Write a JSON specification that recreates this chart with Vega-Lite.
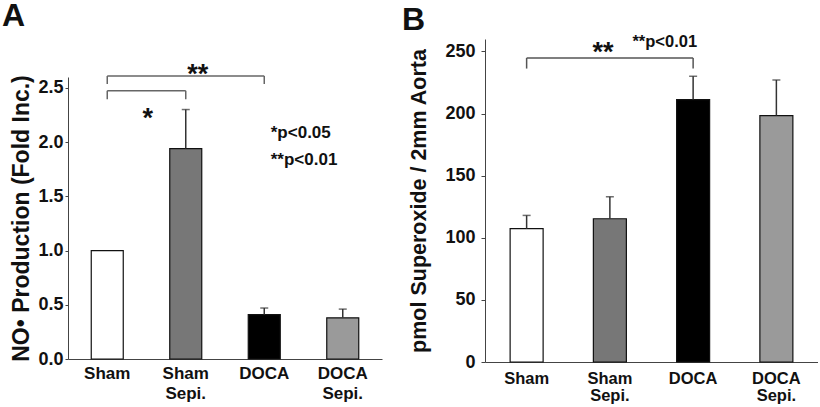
{
  "$schema": "https://vega.github.io/schema/vega-lite/v6.json",
  "background": "white",
  "padding": {"left": 1, "top": 0, "right": 0, "bottom": 0},
  "spacing": 19,
  "config": {
    "view": {"stroke": null},
    "font": "Liberation Sans",
    "axis": {
      "grid": false,
      "domainColor": "#444",
      "domainWidth": 1,
      "tickColor": "#444",
      "labelFont": "Liberation Sans",
      "labelFontWeight": "bold",
      "labelColor": "#111",
      "titleFont": "Liberation Sans",
      "titleFontWeight": "bold",
      "titleColor": "#111"
    },
    "title": {"font": "Liberation Sans", "fontWeight": "bold", "color": "#111"}
  },
  "hconcat": [
    {
      "width": 314,
      "height": 320,
      "title": {"text": "A", "anchor": "start", "frame": "bounds", "fontSize": 32, "offset": 6, "dx": -9},
      "layer": [
        {
          "data": {"values": [
            {"group": "Sham", "mean": 1.0, "upper": 1.0},
            {"group": "Sham Sepi.", "mean": 1.94, "upper": 2.30},
            {"group": "DOCA", "mean": 0.41, "upper": 0.47},
            {"group": "DOCA Sepi.", "mean": 0.38, "upper": 0.46}
          ]},
          "layer": [
            {
              "mark": {"type": "bar", "stroke": "#111", "strokeWidth": 1.2, "width": 32},
              "encoding": {
                "x": {"field": "group", "type": "nominal",
                  "scale": {"domain": ["Sham", "Sham Sepi.", "DOCA", "DOCA Sepi."], "paddingInner": 0.592, "paddingOuter": 0.296},
                  "axis": {"title": null, "labelAngle": 0, "ticks": false, "labelFontSize": 17, "labelPadding": 6, "labelLineHeight": 20, "labelExpr": "split(datum.value, ' ')"}},
                "y": {"field": "mean", "type": "quantitative",
                  "scale": {"domain": [0, 2.5], "range": [320, 38]},
                  "axis": {"title": "NO• Production (Fold Inc.)", "titleFontSize": 23, "titlePadding": 4, "values": [0, 0.5, 1, 1.5, 2, 2.5], "format": ".1f", "labelFontSize": 18, "tickSize": 3, "labelPadding": 2}},
                "fill": {"field": "group", "type": "nominal", "legend": null,
                  "scale": {"domain": ["Sham", "Sham Sepi.", "DOCA", "DOCA Sepi."], "range": ["#ffffff", "#777777", "#000000", "#9a9a9a"]}}
              }
            },
            {
              "transform": [{"filter": "datum.upper > datum.mean"}],
              "mark": {"type": "rule", "color": "#333", "strokeWidth": 1.5},
              "encoding": {
                "x": {"field": "group", "type": "nominal"},
                "y": {"field": "mean", "type": "quantitative"},
                "y2": {"field": "upper"}
              }
            },
            {
              "transform": [{"filter": "datum.upper > datum.mean"}],
              "mark": {"type": "tick", "color": "#333", "size": 8, "thickness": 1.5},
              "encoding": {
                "x": {"field": "group", "type": "nominal"},
                "y": {"field": "upper", "type": "quantitative"}
              }
            }
          ]
        },
        {
          "data": {"values": [
            {"from": "Sham", "to": "DOCA", "y1": 2.61, "y2": 2.61},
            {"from": "Sham", "to": "Sham", "y1": 2.61, "y2": 2.535},
            {"from": "DOCA", "to": "DOCA", "y1": 2.61, "y2": 2.535},
            {"from": "Sham", "to": "Sham Sepi.", "y1": 2.473, "y2": 2.473},
            {"from": "Sham", "to": "Sham", "y1": 2.473, "y2": 2.394},
            {"from": "Sham Sepi.", "to": "Sham Sepi.", "y1": 2.473, "y2": 2.394}
          ]},
          "mark": {"type": "rule", "color": "#666", "strokeWidth": 1.5},
          "encoding": {
            "x": {"field": "from", "type": "nominal"},
            "x2": {"field": "to"},
            "y": {"field": "y1", "type": "quantitative"},
            "y2": {"field": "y2"}
          }
        },
        {
          "data": {"values": [{"pos": "Sham Sepi.", "y": 2.542, "label": "**"}]},
          "mark": {"type": "text", "fontSize": 27, "fontWeight": "bold", "align": "center", "baseline": "alphabetic", "dx": 12, "color": "#111"},
          "encoding": {"x": {"field": "pos", "type": "nominal"}, "y": {"field": "y", "type": "quantitative"}, "text": {"field": "label"}}
        },
        {
          "data": {"values": [{"pos": "Sham", "y": 2.137, "label": "*"}]},
          "mark": {"type": "text", "fontSize": 27, "fontWeight": "bold", "align": "center", "baseline": "alphabetic", "dx": 40.5, "color": "#111"},
          "encoding": {"x": {"field": "pos", "type": "nominal"}, "y": {"field": "y", "type": "quantitative"}, "text": {"field": "label"}}
        },
        {
          "data": {"values": [
            {"pos": "DOCA", "y": 2.036, "label": "*p<0.05"},
            {"pos": "DOCA", "y": 1.785, "label": "**p<0.01"}
          ]},
          "mark": {"type": "text", "fontSize": 17, "fontWeight": "bold", "align": "left", "baseline": "alphabetic", "dx": 6.5, "color": "#111"},
          "encoding": {"x": {"field": "pos", "type": "nominal"}, "y": {"field": "y", "type": "quantitative"}, "text": {"field": "label"}}
        }
      ]
    },
    {
      "width": 333,
      "height": 323,
      "title": {"text": "B", "anchor": "start", "frame": "bounds", "fontSize": 32, "offset": -3, "dx": -7},
      "layer": [
        {
          "data": {"values": [
            {"group": "Sham", "mean": 107.3, "upper": 118},
            {"group": "Sham Sepi.", "mean": 115.3, "upper": 133},
            {"group": "DOCA", "mean": 211.2, "upper": 230},
            {"group": "DOCA Sepi.", "mean": 198.4, "upper": 227}
          ]},
          "layer": [
            {
              "mark": {"type": "bar", "stroke": "#111", "strokeWidth": 1.2, "width": 33},
              "encoding": {
                "x": {"field": "group", "type": "nominal",
                  "scale": {"domain": ["Sham", "Sham Sepi.", "DOCA", "DOCA Sepi."], "paddingInner": 0.604, "paddingOuter": 0.302},
                  "axis": {"title": null, "labelAngle": 0, "ticks": false, "labelFontSize": 16.5, "labelPadding": 8, "labelLineHeight": 17, "labelExpr": "split(datum.value, ' ')"}},
                "y": {"field": "mean", "type": "quantitative",
                  "scale": {"domain": [0, 250]},
                  "axis": {"title": "pmol Superoxide / 2mm Aorta", "titleFontSize": 21.5, "titlePadding": 14, "values": [0, 50, 100, 150, 200, 250], "labelFontSize": 18, "tickSize": 4, "labelPadding": 6}},
                "fill": {"field": "group", "type": "nominal", "legend": null,
                  "scale": {"domain": ["Sham", "Sham Sepi.", "DOCA", "DOCA Sepi."], "range": ["#ffffff", "#777777", "#000000", "#c8c8c8"]}}
              }
            },
            {
              "mark": {"type": "rule", "color": "#333", "strokeWidth": 1.5},
              "encoding": {
                "x": {"field": "group", "type": "nominal"},
                "y": {"field": "mean", "type": "quantitative"},
                "y2": {"field": "upper"}
              }
            },
            {
              "mark": {"type": "tick", "color": "#333", "size": 8, "thickness": 1.5},
              "encoding": {
                "x": {"field": "group", "type": "nominal"},
                "y": {"field": "upper", "type": "quantitative"}
              }
            }
          ]
        },
        {
          "data": {"values": [
            {"from": "Sham", "to": "DOCA", "y1": 244.7, "y2": 244.7},
            {"from": "Sham", "to": "Sham", "y1": 244.7, "y2": 236.2},
            {"from": "DOCA", "to": "DOCA", "y1": 244.7, "y2": 236.2}
          ]},
          "mark": {"type": "rule", "color": "#555", "strokeWidth": 1.5},
          "encoding": {
            "x": {"field": "from", "type": "nominal"},
            "x2": {"field": "to"},
            "y": {"field": "y1", "type": "quantitative"},
            "y2": {"field": "y2"}
          }
        },
        {
          "data": {"values": [{"pos": "Sham Sepi.", "y": 242.4, "label": "**"}]},
          "mark": {"type": "text", "fontSize": 27, "fontWeight": "bold", "align": "center", "baseline": "alphabetic", "dx": -7, "color": "#111"},
          "encoding": {"x": {"field": "pos", "type": "nominal"}, "y": {"field": "y", "type": "quantitative"}, "text": {"field": "label"}}
        },
        {
          "data": {"values": [{"pos": "DOCA", "y": 253.3, "label": "**p<0.01"}]},
          "mark": {"type": "text", "fontSize": 16.5, "fontWeight": "bold", "align": "right", "baseline": "alphabetic", "dx": 4, "color": "#111"},
          "encoding": {"x": {"field": "pos", "type": "nominal"}, "y": {"field": "y", "type": "quantitative"}, "text": {"field": "label"}}
        }
      ]
    }
  ]
}
